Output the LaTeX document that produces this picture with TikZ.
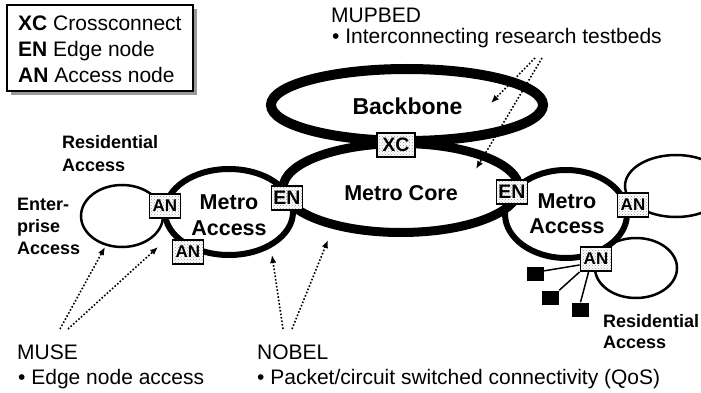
\documentclass[tikz,border=0pt]{standalone}
\usepackage{fontspec}
\setmainfont{Liberation Sans}
\usetikzlibrary{arrows.meta,patterns,shapes.geometric,shadows}

\begin{document}
\begin{tikzpicture}[x=1pt,y=-1pt,
  ring/.style={draw, ellipse, inner sep=0pt, outer sep=0pt},
  bbring/.style={ring, line width=10pt},
  corering/.style={ring, line width=9pt},
  accring/.style={ring, line width=6pt},
  thinring/.style={ring, line width=2.5pt},
  nbox/.style={draw, line width=1.8pt, preaction={fill=white},
    pattern=crosshatch dots, pattern color=gray!80,
    inner sep=0pt, minimum width=31pt, minimum height=24pt},
  antxt/.style={font=\bfseries\fontsize{17}{17}\selectfont},
  entxt/.style={font=\bfseries\fontsize{19.5}{19.5}\selectfont},
  plain/.style={inner sep=0pt, font=\fontsize{21}{25}\selectfont},
  bigbold/.style={inner sep=0pt, font=\bfseries\fontsize{21.5}{25}\selectfont},
  smallbold/.style={inner sep=0pt, font=\bfseries\fontsize{18}{22}\selectfont},
  ptr/.style={line width=1.6pt, dash pattern=on 1.6pt off 1.9pt,
    -{Latex[length=8pt,width=6.5pt]}},
  term/.style={fill=black, inner sep=0pt, minimum width=17pt, minimum height=14pt}
]
\useasboundingbox (0,0) rectangle (701,393);

% legend
\node (legend) [draw, line width=2pt, fill=white, anchor=north west,
  minimum width=186pt, minimum height=86pt, inner sep=0pt, outer sep=0pt,
  drop shadow={shadow xshift=4pt, shadow yshift=-4pt, opacity=1, fill=gray!80}]
  at (7,5) {};
\node (lgxc) [plain, anchor=base west] at (18,31) {\textbf{XC} Crossconnect};
\node (lgen) [plain, anchor=base west] at (18,57) {\textbf{EN} Edge node};
\node (lgan) [plain, anchor=base west] at (18,83) {\textbf{AN} Access node};

% access rings (thin)
\node (ent)  [thinring, minimum width=82pt, minimum height=62pt] at (122,216) {};
\node (resa) [thinring, minimum width=102pt, minimum height=62pt] at (676,186) {};
\node (resb) [thinring, minimum width=82pt, minimum height=60pt] at (636,268) {};

% metro access rings
\node (mal) [accring, minimum width=128pt, minimum height=86pt] at (229,212) {};
\node (mar) [accring, minimum width=122pt, minimum height=88pt] at (566,214) {};

% metro core and backbone
\node (core) [corering, minimum width=236pt, minimum height=89pt] at (401,188) {};
\node (bb)   [bbring, minimum width=272pt, minimum height=72pt] at (407,105) {};

% ring labels
\node (bbtxt)   [inner sep=0pt, font=\bfseries\fontsize{23}{23}\selectfont, anchor=base] at (407.5,115) {Backbone};
\node (coretxt) [bigbold, anchor=base] at (401,200) {Metro Core};
\node (maltxt1) [bigbold, anchor=base] at (229,209) {Metro};
\node (maltxt2) [bigbold, anchor=base] at (229,235) {Access};
\node (martxt1) [bigbold, anchor=base] at (567,208) {Metro};
\node (martxt2) [bigbold, anchor=base] at (567,233) {Access};

% network elements
\node (xc)  [nbox, minimum width=38pt, entxt] at (396,145) {XC};
\node (enl) [nbox, entxt] at (287,198) {EN};
\node (enr) [nbox, entxt] at (512,192) {EN};
\node (anl1) [nbox, antxt] at (165,206) {AN};
\node (anl2) [nbox, antxt] at (188,252) {AN};
\node (anr1) [nbox, antxt] at (633,205) {AN};
\node (anr2) [nbox, antxt] at (596,259) {AN};

% residential terminals
\node (t1) [term] at (535.5,274) {};
\node (t2) [term] at (550.5,297.5) {};
\node (t3) [term] at (580.5,309.5) {};
\draw[line width=1.5pt] (anr2.200) -- (t1.20);
\draw[line width=1.5pt] (anr2.south west) -- (t2.north east);
\draw[line width=1.5pt] (anr2.240) -- (t3.north);

% access labels
\node (res1a) [smallbold, anchor=base west] at (62,149) {Residential};
\node (res1b) [smallbold, anchor=base west] at (62,171) {Access};
\node (entA) [smallbold, anchor=base west] at (17,210) {Enter-};
\node (entB) [smallbold, anchor=base west] at (17,232) {prise};
\node (entC) [smallbold, anchor=base west] at (17,254) {Access};
\node (res2a) [smallbold, anchor=base west] at (603,327) {Residential};
\node (res2b) [smallbold, anchor=base west] at (603,348) {Access};

% project captions
\node (mup1) [plain, anchor=base west] at (331,23) {MUPBED};
\node (mup2) [plain, anchor=base west] at (332,44) {• Interconnecting research testbeds};
\node (mus1) [plain, anchor=base west] at (17,359) {MUSE};
\node (mus2) [plain, anchor=base west] at (18,384) {• Edge node access};
\node (nob1) [plain, anchor=base west] at (257,359) {NOBEL};
\node (nob2) [plain, anchor=base west] at (257,384) {• Packet/circuit switched connectivity (QoS)};

% pointer ends
\coordinate (pm1) at (535,58);
\coordinate (pm2) at (542,58);
\coordinate (qm1) at (491,103);
\coordinate (qm2) at (476,169);
\coordinate (ps1) at (60,329);
\coordinate (ps2) at (68,329);
\coordinate (qs1) at (105,247);
\coordinate (qs2) at (158,247);
\coordinate (pn1) at (283,329);
\coordinate (pn2) at (292,329);
\coordinate (qn1) at (272,255);
\coordinate (qn2) at (328,240);

\draw[ptr] (pm1) -- (qm1);
\draw[ptr] (pm2) -- (qm2);
\draw[ptr] (ps1) -- (qs1);
\draw[ptr] (ps2) -- (qs2);
\draw[ptr] (pn1) -- (qn1);
\draw[ptr] (pn2) -- (qn2);
\end{tikzpicture}
\end{document}
